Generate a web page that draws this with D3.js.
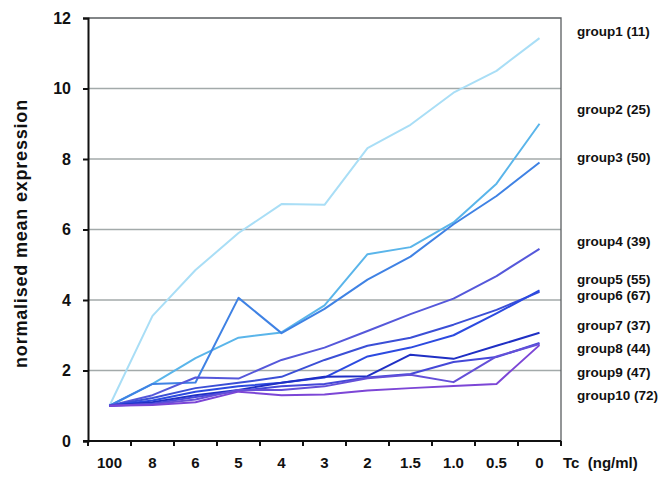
<!DOCTYPE html>
<html lang="en">
<head>
    <meta charset="UTF-8">
    <title>normalised mean expression</title>
    <script src="https://d3js.org/d3.v7.min.js"></script>
    <style>
        body {
            margin: 0;
            padding: 0;
            background: #fff;
            font-family: 'Liberation Sans', Arial, sans-serif;
        }
        svg text {
            font-weight: bold;
            fill: #111;
        }
    </style>
</head>
<body>
    <div id="chart"></div>

    <script>
        // concentrations (x categories)
        const doses = ['100', '8', '6', '5', '4', '3', '2', '1.5', '1.0', '0.5', '0'];
        const yTicks = [0, 2, 4, 6, 8, 10, 12];

        const groupNames = ['group1 (11)', 'group2 (25)', 'group3 (50)', 'group4 (39)', 'group5 (55)',
                            'group6 (67)', 'group7 (37)', 'group8 (44)', 'group9 (47)', 'group10 (72)'];
        const groupColors = ['#a9def6', '#5ab5ea', '#3f82e4', '#5558da', '#3b4fd6',
                             '#2c4ae0', '#1f2fc4', '#4548d8', '#6450d8', '#7c46d6'];
        // where each name sits on the right, in y units
        const labelLevels = [11.63, 9.42, 8.06, 5.67, 4.6, 4.12, 3.27, 2.62, 1.96, 1.3];

        const group1 = [1, 3.55, 4.85, 5.9, 6.72, 6.7, 8.31, 8.97, 9.88, 10.5, 11.43];
        const group2 = [1, 1.62, 2.35, 2.93, 3.08, 3.85, 5.3, 5.5, 6.2, 7.3, 9.0];
        const group3 = [1, 1.62, 1.66, 4.06, 3.06, 3.75, 4.58, 5.23, 6.15, 6.95, 7.9];
        const group4 = [1, 1.3, 1.8, 1.77, 2.3, 2.65, 3.12, 3.6, 4.04, 4.68, 5.45];
        const group5 = [1, 1.22, 1.5, 1.65, 1.82, 2.3, 2.7, 2.93, 3.3, 3.72, 4.23];
        const group6 = [1, 1.15, 1.4, 1.55, 1.65, 1.8, 2.4, 2.65, 3.0, 3.62, 4.27];
        const group7 = [1, 1.1, 1.3, 1.45, 1.65, 1.82, 1.84, 2.45, 2.33, 2.7, 3.07];
        const group8 = [1, 1.06, 1.25, 1.42, 1.55, 1.62, 1.8, 1.9, 2.24, 2.38, 2.78];
        const group9 = [1, 1.04, 1.18, 1.45, 1.45, 1.55, 1.78, 1.88, 1.67, 2.4, 2.75];
        const group10 = [1, 1.02, 1.1, 1.4, 1.3, 1.32, 1.43, 1.5, 1.56, 1.62, 2.72];

        const series = [group1, group2, group3, group4, group5, group6, group7, group8, group9, group10];

        const width = 672;
        const height = 485;
        const margin = { top: 18, right: 111, bottom: 44, left: 88 };

        const svg = d3.select('#chart')
            .append('svg')
            .attr('width', width)
            .attr('height', height);

        const x = d3.scaleBand()
            .domain(doses)
            .range([margin.left, width - margin.right]);

        const y = d3.scaleLinear()
            .domain([0, 12])
            .range([height - margin.bottom, margin.top]);

        // gridlines
        svg.append('g')
            .selectAll('line')
            .data(yTicks.filter(t => t > 0 && t < 12))
            .join('line')
            .attr('x1', margin.left)
            .attr('x2', width - margin.right)
            .attr('y1', d => y(d))
            .attr('y2', d => y(d))
            .attr('stroke', '#a3aaaa')
            .attr('stroke-width', 1.3);

        // top and right frame
        svg.append('path')
            .attr('d', `M${margin.left},${y(12)}H${width - margin.right}V${y(0)}`)
            .attr('fill', 'none')
            .attr('stroke', '#5a5e60')
            .attr('stroke-width', 1.3);

        // y axis
        const yAxis = svg.append('g')
            .attr('transform', `translate(${margin.left},0)`)
            .call(d3.axisLeft(y).tickValues(yTicks).tickSize(5).tickPadding(12));
        yAxis.select('.domain').attr('stroke', '#111').attr('stroke-width', 2);
        yAxis.selectAll('.tick line').attr('stroke', '#111').attr('stroke-width', 2);
        yAxis.selectAll('.tick text')
            .style('font-size', '16px')
            .style('font-family', "'Liberation Sans', Arial, sans-serif")
            .attr('fill', '#111');

        // x axis, ticks on band edges
        const xAxisG = svg.append('g')
            .attr('transform', `translate(0,${y(0)})`);
        xAxisG.append('line')
            .attr('x1', margin.left - 5)
            .attr('x2', width - margin.right)
            .attr('stroke', '#111')
            .attr('stroke-width', 2);
        const edges = doses.map(d => x(d)).concat([x(doses[doses.length - 1]) + x.bandwidth()]);
        xAxisG.selectAll('.edge')
            .data(edges)
            .join('line')
            .attr('class', 'edge')
            .attr('x1', d => d)
            .attr('x2', d => d)
            .attr('y1', 0)
            .attr('y2', 5)
            .attr('stroke', '#111')
            .attr('stroke-width', 2);
        xAxisG.selectAll('.lbl')
            .data(doses)
            .join('text')
            .attr('class', 'lbl')
            .attr('x', d => x(d) + x.bandwidth() / 2)
            .attr('y', 27)
            .attr('text-anchor', 'middle')
            .style('font-size', '15px')
            .text(d => d);

        svg.append('text')
            .attr('x', width - margin.right + 2)
            .attr('y', y(0) + 27)
            .style('font-size', '15px')
            .attr('xml:space', 'preserve')
            .text('Tc  (ng/ml)');

        // y axis title
        svg.append('text')
            .attr('transform', `translate(27,${(y(0) + y(12)) / 2 + 4}) rotate(-90)`)
            .attr('text-anchor', 'middle')
            .style('font-size', '18px')
            .style('letter-spacing', '0.8px')
            .text('normalised mean expression');

        // lines
        const line = d3.line()
            .x((d, i) => x(doses[i]) + x.bandwidth() / 2)
            .y(d => y(d));

        svg.append('g')
            .selectAll('path')
            .data(series)
            .join('path')
            .attr('d', d => line(d))
            .attr('fill', 'none')
            .attr('stroke', (d, i) => groupColors[i])
            .attr('stroke-width', 2)
            .attr('stroke-linejoin', 'round');

        // group names
        svg.append('g')
            .selectAll('text')
            .data(groupNames)
            .join('text')
            .attr('x', width - margin.right + 16)
            .attr('y', (d, i) => y(labelLevels[i]))
            .attr('dy', '0.35em')
            .style('font-size', '13.5px')
            .text(d => d);
    </script>
</body>
</html>
